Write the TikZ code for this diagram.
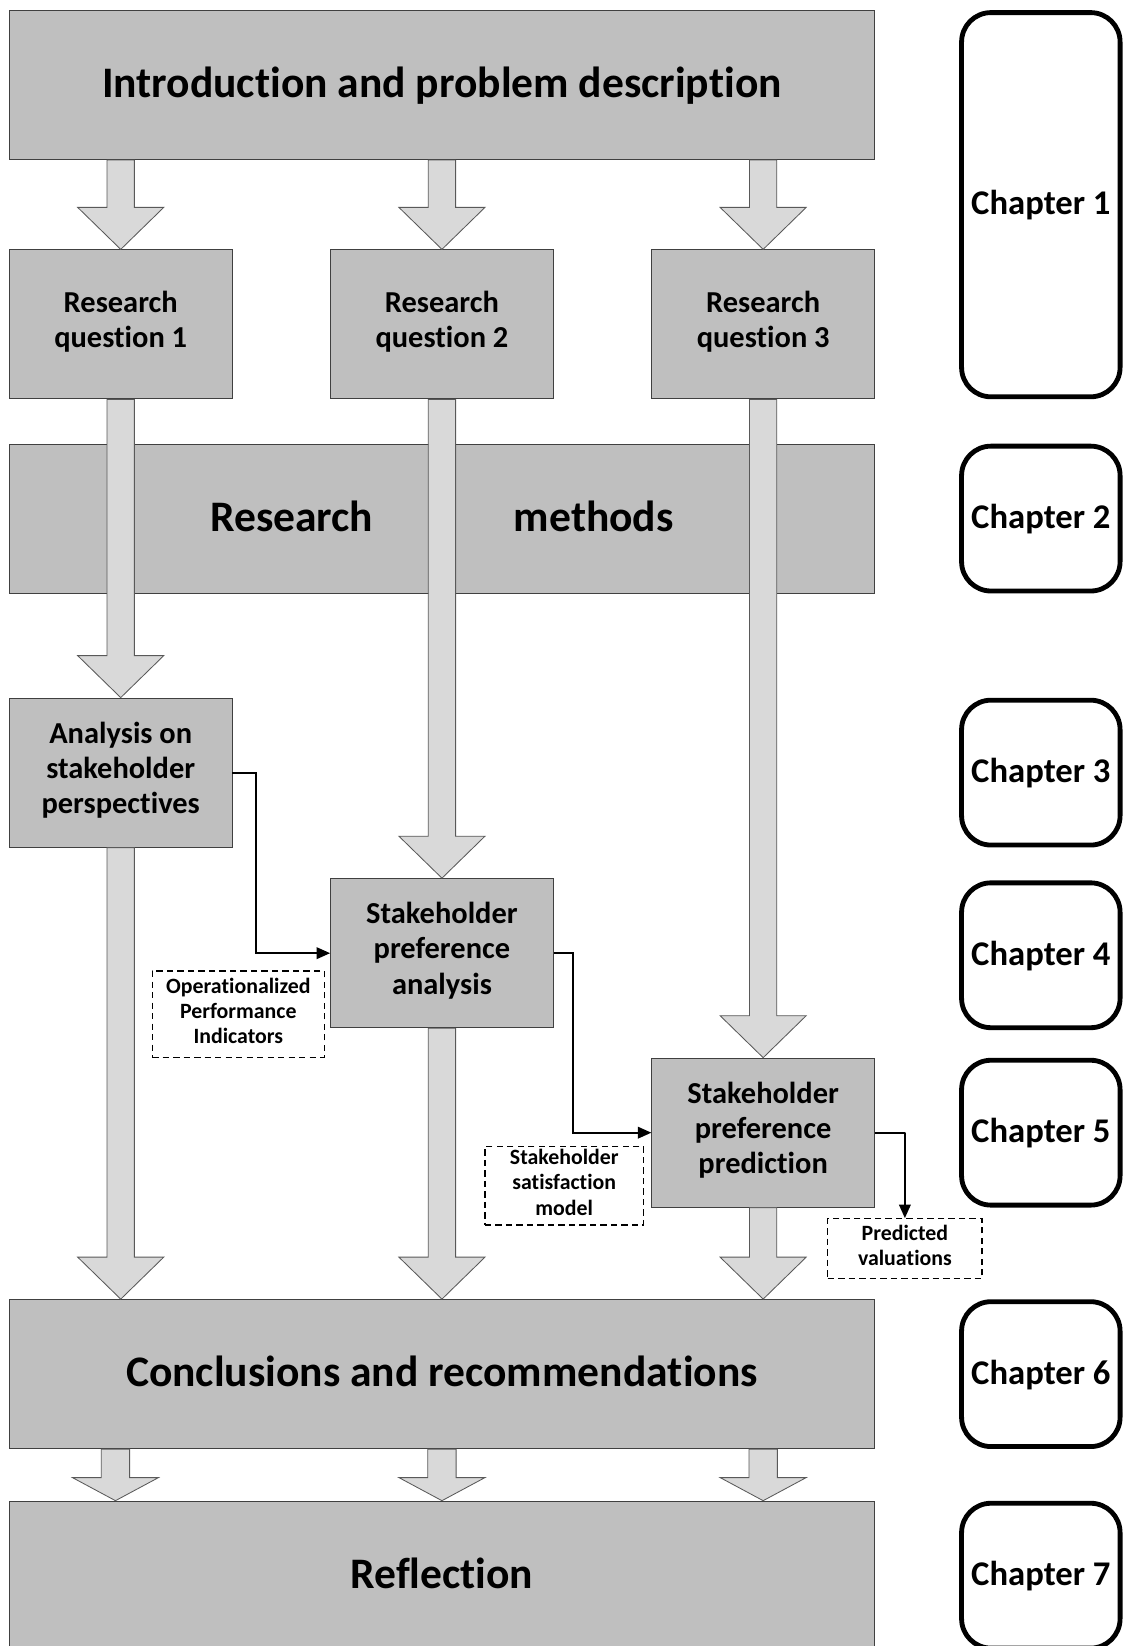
\documentclass[tikz,border=0pt]{standalone}
\usepackage{fontspec}
\setmainfont{Carlito}[Ligatures={NoCommon,NoContextual}]
\usetikzlibrary{calc,arrows.meta}

% keeps two letters apart (no joined glyph)
\newcommand\sepgl{\kern0pt}

\definecolor{boxfill}{HTML}{BFBFBF}
\definecolor{boxline}{HTML}{404040}
\definecolor{arrowfill}{HTML}{D9D9D9}
\definecolor{arrowline}{HTML}{595959}

% hollow block arrow: #1 start point, #2 tip, #3 shaft half width, #4 head half width, #5 head length
\newcommand\barrowdraw[5]{%
  \draw[barrowstyle] let \p1=(#1), \p2=(#2) in
    (\x1-#3,\y1) -- (\x1-#3,\y2+#5) -- (\x1-#4,\y2+#5) -- (\x1,\y2)
    -- (\x1+#4,\y2+#5) -- (\x1+#3,\y2+#5) -- (\x1+#3,\y1) -- cycle;}

\tikzset{
  % fixed line extents so that text blocks centre by their lines, not by their glyphs
  evenlines/.style={execute at begin node={\rule{0pt}{0.9em}},
    execute at end node={\rule[-0.32em]{0pt}{0pt}}},
  grybox/.style={draw=boxline, fill=boxfill, line width=0.9pt, inner sep=0pt, align=center,
    evenlines, font=\bfseries\fontsize{29}{33.5}\selectfont},
  widebox/.style={grybox, minimum width=824pt, minimum height=142pt,
    font=\bfseries\fontsize{41.5}{50}\selectfont},
  midbox/.style={grybox, minimum width=212pt, minimum height=142pt},
  chapbox/.style={draw=black, line width=4.6pt, rounded corners=28pt, minimum width=151pt,
    inner sep=0pt, evenlines, font=\bfseries\fontsize{33}{40}\selectfont},
  notebox/.style={draw=black, dash pattern=on 6pt off 4pt, line width=1.1pt, inner sep=0pt,
    align=center, evenlines, font=\bfseries\fontsize{20.8}{24}\selectfont},
  barrowstyle/.style={draw=arrowline, fill=arrowfill, line width=0.8pt, line join=miter},
  link/.style={draw=black, line width=2pt, -{Triangle[length=13pt,width=11pt]}},
}

\begin{document}
\begin{tikzpicture}[x=1pt,y=-1pt]
\useasboundingbox (0,0) rectangle (1070,1568);
\clip (0,0) rectangle (1070,1568);

% main flow boxes
\node[widebox] (intro) at (421,81) {Introduc\sepgl tion and problem descrip\sepgl tion};
\node[midbox] (rq1) at (115,309) {Research\\question 1};
\node[midbox] (rq2) at (421,309) {Research\\question 2};
\node[midbox] (rq3) at (727,309) {Research\\question 3};
\node[widebox] (meth) at (421,494) {Research\hspace{134pt}methods};
\node[midbox] (ana) at (115,736) {Analysis on\\stakeholder\\perspec\sepgl tives};
\node[midbox] (spa) at (421,908) {Stakeholder\\preference\\analysis};
\node[midbox] (spp) at (727,1079) {Stakeholder\\preference\\predic\sepgl tion};
\node[widebox] (concl) at (421,1309) {Conclusions and recommenda\sepgl tions};
\node[widebox] (refl) at (421,1501) {Ref\sepgl lec\sepgl tion};

% outputs
\node[notebox, minimum width=164pt, minimum height=82pt] (opi) at (227,966)
  {Opera\sepgl tionalized\\Performance\\Indicators};
\node[notebox, minimum width=151pt, minimum height=75pt] (ssm) at (537.5,1129.5)
  {Stakeholder\\satisfac\sepgl tion\\model};
\node[notebox, minimum width=147pt, minimum height=57pt] (pv) at (862,1189.5)
  {Predicted\\valua\sepgl tions};

% chapter markers
\node[chapbox, minimum height=366pt] (ch1) at (991.5,195) {Chapter 1};
\node[chapbox, minimum height=138pt] (ch2) at (991.5,494) {Chapter 2};
\node[chapbox, minimum height=138pt] (ch3) at (991.5,736) {Chapter 3};
\node[chapbox, minimum height=138pt] (ch4) at (991.5,910) {Chapter 4};
\node[chapbox, minimum height=138pt] (ch5) at (991.5,1079) {Chapter 5};
\node[chapbox, minimum height=138pt] (ch6) at (991.5,1309) {Chapter 6};
\node[chapbox, minimum height=138pt] (ch7) at (991.5,1501) {Chapter 7};

% block arrows
\barrowdraw{rq1 |- intro.south}{rq1.north}{13pt}{41pt}{40pt}
\barrowdraw{rq2 |- intro.south}{rq2.north}{13pt}{41pt}{40pt}
\barrowdraw{rq3 |- intro.south}{rq3.north}{13pt}{41pt}{40pt}
\barrowdraw{rq1.south}{ana.north}{13pt}{41pt}{40pt}
\barrowdraw{rq2.south}{spa.north}{13pt}{41pt}{40pt}
\barrowdraw{rq3.south}{spp.north}{13pt}{41pt}{40pt}
\barrowdraw{ana.south}{ana |- concl.north}{13pt}{41pt}{40pt}
\barrowdraw{spa.south}{spa |- concl.north}{13pt}{41pt}{40pt}
\barrowdraw{spp.south}{spp |- concl.north}{13pt}{41pt}{40pt}
\coordinate (c1) at (110,0);
\barrowdraw{c1 |- concl.south}{c1 |- refl.north}{13.5pt}{41pt}{22pt}
\barrowdraw{rq2 |- concl.south}{rq2 |- refl.north}{13.5pt}{41pt}{22pt}
\barrowdraw{rq3 |- concl.south}{rq3 |- refl.north}{13.5pt}{41pt}{22pt}

% result links
\draw[link] (ana.east) -- ++(22,0) |- (spa.west);
\draw[link] (spa.east) -- ++(18,0) |- (spp.west);
\draw[link] (spp.east) -- ++(29,0) -| (pv.north);
\end{tikzpicture}
\end{document}
